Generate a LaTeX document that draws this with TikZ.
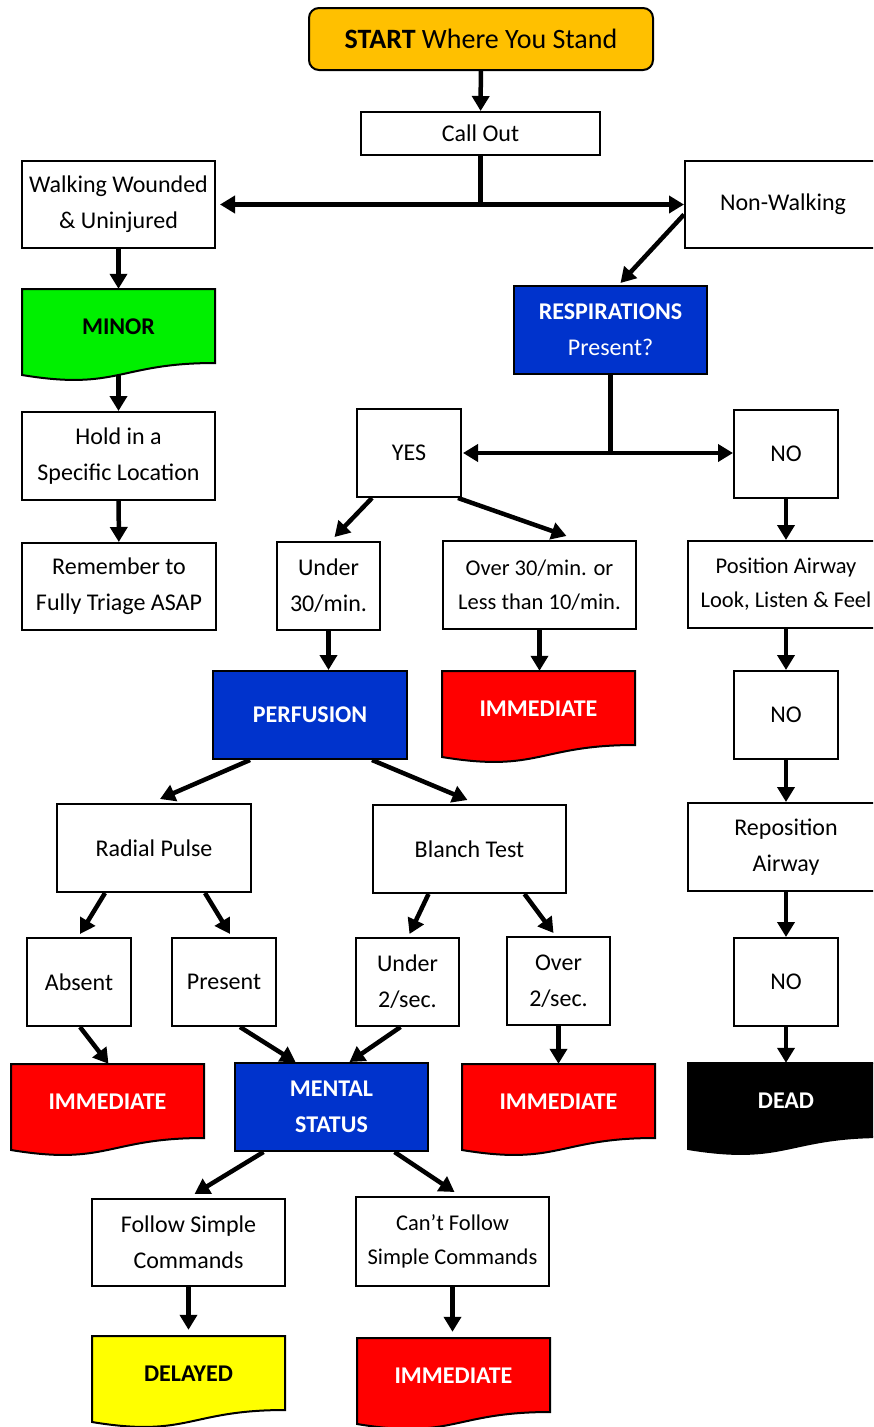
\documentclass[tikz,border=0pt]{standalone}
\usepackage{fontspec}
\setmainfont{Carlito}
\usetikzlibrary{arrows.meta}

\definecolor{startorange}{RGB}{255,192,0}
\definecolor{minorgreen}{RGB}{0,240,0}
\definecolor{triageblue}{RGB}{0,51,204}
\definecolor{immred}{RGB}{255,0,0}
\definecolor{delayyellow}{RGB}{255,255,0}

\tikzset{
  box/.style={draw, line width=2pt, fill=white, align=center, inner sep=0pt,
    font=\fontsize{24}{36}\selectfont},
  smallbox/.style={box, font=\fontsize{22.5}{34}\selectfont},
  bluebox/.style={box, fill=triageblue, text=white},
  doclabel/.style={inner sep=0pt, align=center, font=\fontsize{24}{36}\selectfont\bfseries},
  arr/.style={line width=4.5pt, -{Triangle[width=17pt,length=15pt]}},
  twoarr/.style={line width=4.5pt, {Triangle[width=17pt,length=15pt]}-{Triangle[width=17pt,length=15pt]}},
  joinline/.style={line width=4.5pt},
}

% document shape: name, left, top, width, fill, text colour, label
\newcommand{\docbox}[7]{%
  \pgfmathsetmacro{\dR}{#2+#4}%
  \pgfmathsetmacro{\dM}{#2+#4/2}%
  \filldraw[fill=#5, draw=black, line width=2pt]
    (#2,#3) -- (\dR,#3) -- (\dR,#3+74)
    .. controls (\dM,#3+74) and (\dM,#3+102) .. (#2,#3+86) -- cycle;%
  \node[doclabel, text=#6, minimum width=#4pt, minimum height=76pt] (#1) at (\dM,#3+38) {#7};%
  \coordinate (#1-bottom) at (\dM,#3+86);%
}

\begin{document}
\begin{tikzpicture}[x=1pt,y=-1pt]
  \useasboundingbox (0,0) rectangle (873,1427);
  \clip (0,0) rectangle (873,1427);

  % Start and call out
  \node[box, rounded corners=10pt, fill=startorange, minimum width=344pt, minimum height=62pt,
    font=\fontsize{28}{34}\selectfont] (start) at (481,39) {\textbf{START} Where You Stand};
  \node[box, minimum width=239pt, minimum height=43pt] (callout) at (480.5,133.5) {Call Out};

  % Left column: walking wounded
  \node[box, minimum width=193pt, minimum height=87pt] (walking) at (118.5,204.5) {Walking Wounded\\\& Uninjured};
  \docbox{minor}{22}{289}{193}{minorgreen}{black}{MINOR}
  \node[box, minimum width=193pt, minimum height=88pt] (hold) at (118.5,456) {Hold in a\\Specific Location};
  \node[box, minimum width=194pt, minimum height=87pt] (remember) at (119,586.5) {Remember to\\Fully Triage ASAP};

  % Non-walking and respirations
  \node[box, minimum width=196pt, minimum height=87pt] (nonwalking) at (783,204.5) {Non-Walking};
  \node[bluebox, minimum width=193pt, minimum height=88pt] (resp) at (610.5,330) {\textbf{RESPIRATIONS}\\Present?};
  \node[box, minimum width=104pt, minimum height=88pt] (yes) at (409,453) {YES};
  \node[box, minimum width=104pt, minimum height=88pt] (no) at (786,454) {NO};

  % Respiration rate
  \node[box, minimum width=103pt, minimum height=88pt] (under30) at (328.5,586) {Under\\30/min.};
  \node[smallbox, minimum width=193pt, minimum height=88pt] (over30) at (539.5,585) {Over 30/min. or\\Less than 10/min.};
  \docbox{immA}{442}{671}{193}{immred}{white}{IMMEDIATE}

  % Airway column
  \node[smallbox, minimum width=196pt, minimum height=87pt] (position) at (786,584.5) {Position Airway\\Look, Listen \& Feel};
  \node[box, minimum width=104pt, minimum height=88pt] (noB) at (786,715) {NO};
  \node[box, minimum width=196pt, minimum height=88pt] (reposition) at (786,847) {Reposition\\Airway};
  \node[box, minimum width=104pt, minimum height=88pt] (noC) at (786,982) {NO};
  \docbox{dead}{688}{1063}{196}{black}{white}{DEAD}

  % Perfusion
  \node[bluebox, minimum width=194pt, minimum height=88pt, font=\fontsize{24}{36}\selectfont\bfseries] (perfusion) at (310,715) {PERFUSION};
  \node[box, minimum width=194pt, minimum height=88pt] (radial) at (154,848) {Radial Pulse};
  \node[box, minimum width=193pt, minimum height=88pt] (blanch) at (469.5,849) {Blanch Test};
  \node[box, minimum width=104pt, minimum height=88pt] (absent) at (79,982) {Absent};
  \node[box, minimum width=104pt, minimum height=88pt] (present) at (224,982) {Present};
  \node[box, minimum width=103pt, minimum height=88pt] (under2) at (407.5,982) {Under\\2/sec.};
  \node[box, minimum width=103pt, minimum height=88pt] (over2) at (558.5,981) {Over\\2/sec.};
  \docbox{immB}{11}{1064}{193}{immred}{white}{IMMEDIATE}
  \docbox{immC}{462}{1064}{193}{immred}{white}{IMMEDIATE}

  % Mental status
  \node[bluebox, minimum width=193pt, minimum height=88pt, font=\fontsize{24}{36}\selectfont\bfseries] (mental) at (331.5,1107) {MENTAL\\STATUS};
  \node[box, minimum width=193pt, minimum height=87pt] (follow) at (188.5,1242.5) {Follow Simple\\Commands};
  \node[smallbox, minimum width=193pt, minimum height=89pt] (cantfollow) at (452.5,1241.5) {Can’t Follow\\Simple Commands};
  \docbox{delayed}{92}{1336}{193}{delayyellow}{black}{DELAYED}
  \docbox{immD}{357}{1338}{193}{immred}{white}{IMMEDIATE}

  % Connectors
  \coordinate (splitA) at (callout.south |- walking.east);
  \coordinate (splitB) at (resp.south |- yes.east);
  \draw[arr] (start) -- (callout);
  \draw[joinline] (callout.south) -- (splitA);
  \draw[twoarr] ([xshift=4pt]walking.east) -- (walking.east -| nonwalking.west);
  \draw[arr] (walking) -- (minor);
  \draw[arr] (minor-bottom) -- (hold);
  \draw[arr] (hold) -- (remember);
  \draw[arr] ([yshift=-10pt]nonwalking.west) -- ([xshift=10pt,yshift=2pt]resp.north);
  \draw[joinline] (resp.south) -- (splitB);
  \draw[twoarr] ([xshift=1pt]yes.east) -- (yes.east -| no.west);
  \draw[arr] ([xshift=-37pt]yes.south) -- ([xshift=6pt,yshift=4pt]under30.north);
  \draw[arr] ([xshift=49pt]yes.south) -- ([xshift=27pt,yshift=4pt]over30.north);
  \draw[arr] (under30.south) -- (under30.south |- perfusion.north);
  \draw[arr] (over30.south) -- (over30.south |- immA.north);
  \draw[arr] (no) -- (position);
  \draw[arr] (position) -- (noB);
  \draw[arr] (noB) -- (reposition);
  \draw[arr] (reposition) -- (noC);
  \draw[arr] (noC) -- (noC.south |- dead.north);
  \draw[arr] ([xshift=-60pt]perfusion.south) -- ([xshift=6pt,yshift=4pt]radial.north);
  \draw[arr] ([xshift=62pt]perfusion.south) -- ([xshift=-2pt,yshift=4pt]blanch.north);
  \draw[arr] ([xshift=-49pt]radial.south) -- ([xshift=1pt,yshift=3pt]absent.north);
  \draw[arr] ([xshift=51pt]radial.south) -- ([xshift=6pt,yshift=3pt]present.north);
  \draw[arr] ([xshift=-41pt]blanch.south) -- ([xshift=2pt,yshift=3pt]under2.north);
  \draw[arr] ([xshift=55pt]blanch.south) -- ([xshift=-5pt,yshift=3pt]over2.north);
  \draw[arr] ([xshift=1pt]absent.south) -- ([xshift=1pt]immB.north);
  \draw[arr] ([xshift=16pt]present.south) -- ([xshift=-36pt]mental.north);
  \draw[arr] ([xshift=-7pt]under2.south) -- ([xshift=18pt]mental.north);
  \draw[arr] (over2.south) -- (over2.south |- immC.north);
  \draw[arr] ([xshift=-68pt]mental.south) -- ([xshift=6pt,yshift=4pt]follow.north);
  \draw[arr] ([xshift=63pt]mental.south) -- ([xshift=2pt,yshift=4pt]cantfollow.north);
  \draw[arr] (follow.south) -- ([yshift=6pt]follow.south |- delayed.north);
  \draw[arr] (cantfollow.south) -- ([yshift=6pt]cantfollow.south |- immD.north);
\end{tikzpicture}
\end{document}
